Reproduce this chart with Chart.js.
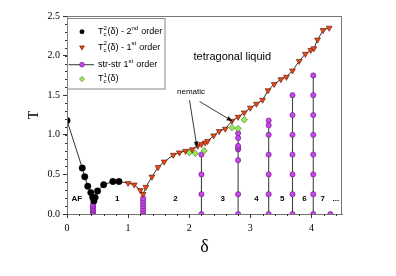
<!DOCTYPE html>
<html>
<head>
<meta charset="utf-8">
<script src="https://cdn.jsdelivr.net/npm/chart.js@4"></script>
<style>
  html, body { margin: 0; padding: 0; background: #fff; }
  #wrap { width: 396px; height: 276px; }
</style>
</head>
<body>
<div id="wrap"><canvas id="phaseChart"></canvas></div>
<script>
// T_c^2(delta), 2nd order transition (black circles)
const blackDelta = [0, 0.25, 0.29, 0.34, 0.39, 0.42, 0.44, 0.46, 0.5, 0.6, 0.75, 0.85];
const blackT     = [1.18, 0.58, 0.47, 0.35, 0.27, 0.21, 0.165, 0.21, 0.29, 0.37, 0.41, 0.41];

// T_c^2(delta), 1st order transition (orange triangles)
const triDelta = [1.0, 1.1, 1.2, 1.245, 1.29, 1.39, 1.49, 1.59, 1.74, 1.84, 1.94, 2.05, 2.14, 2.2, 2.26, 2.3,
                  2.4, 2.49, 2.59, 2.7, 2.8, 2.9, 3.0, 3.1, 3.2, 3.29, 3.39, 3.5, 3.59, 3.69, 3.8, 3.9, 3.99,
                  4.04, 4.1, 4.19, 4.29];
const triT     = [0.39, 0.37, 0.30, 0.25, 0.34, 0.47, 0.59, 0.66, 0.745, 0.775, 0.795, 0.815, 0.86, 0.88, 0.90, 0.92,
                  0.99, 1.045, 1.075, 1.175, 1.225, 1.28, 1.34, 1.39, 1.44, 1.56, 1.64, 1.70, 1.73, 1.81, 1.93, 2.02, 2.07,
                  2.09, 2.20, 2.32, 2.35];

// T_c^1(delta) (green diamonds)
const greenDelta = [2.0, 2.1, 2.245, 2.7, 2.8, 2.9];
const greenT     = [0.775, 0.765, 0.80, 1.09, 1.08, 1.19];

// stripe-stripe 1st order lines (purple columns)
const colDelta = [0.425, 1.245, 2.2, 2.8, 3.3, 3.69, 4.03, 4.31];
const colT = [
  [0, 0.02, 0.04, 0.06, 0.08, 0.10, 0.12],
  [0, 0.033, 0.066, 0.1, 0.133, 0.166, 0.2],
  [0, 0.25, 0.5, 0.75],
  [0, 0.25, 0.68, 0.815, 0.835, 0.86, 0.96, 1.02],
  [0, 0.25, 0.5, 0.75, 1.0, 1.12, 1.18],
  [0, 0.25, 0.5, 0.75, 1.0, 1.25, 1.5],
  [0, 0.25, 0.5, 0.75, 1.0, 1.25, 1.5, 1.75],
  [0]
];

const xTicks = [0, 1, 2, 3, 4];
const yTicks = [0, 0.5, 1.0, 1.5, 2.0, 2.5];

const phaseLabels = ['AF', '1', '2', '3', '4', '5', '6', '7', '...'];
const phaseLabelX = [0.16, 0.82, 1.775, 2.55, 3.1, 3.52, 3.885, 4.185, 4.4];

const pts = (xs, ys) => xs.map((x, i) => ({ x: x, y: ys[i] }));

const purple = '#cc44ee', purpleEdge = '#5e1a75';
const orange = '#e8481c', orangeEdge = '#5a1800';
const green = '#9be85a', greenEdge = '#3c7020';

const datasets = [
  { label: 'black', data: pts(blackDelta, blackT), pointStyle: 'circle', pointRadius: 3.2,
    backgroundColor: '#000', borderColor: '#000', borderWidth: 0.5, showLine: false },
  { label: 'tri', data: pts(triDelta, triT), pointStyle: 'triangle', rotation: 180, pointRadius: 3.4,
    backgroundColor: orange, borderColor: orangeEdge, borderWidth: 0.6, showLine: false },
  { label: 'green', data: pts(greenDelta, greenT), pointStyle: 'rectRot', pointRadius: 3.2,
    backgroundColor: green, borderColor: greenEdge, borderWidth: 0.6, showLine: false }
];
colDelta.forEach((d, i) => {
  datasets.push({
    label: 'col' + i, data: colT[i].map(t => ({ x: d, y: t })),
    showLine: true, borderColor: '#444', borderWidth: 1.1,
    pointStyle: 'circle', pointRadius: 2.6, pointBackgroundColor: purple,
    pointBorderColor: purpleEdge, pointBorderWidth: 0.6
  });
});
datasets.push({
  label: 'curve', data: pts(blackDelta.concat(triDelta), blackT.concat(triT)),
  showLine: true, pointRadius: 0, borderColor: '#333', borderWidth: 1
});

// rich text with sub/superscripts
function richText(ctx, x, y, parts, size) {
  let cx = x;
  parts.forEach(p => {
    if (p.sub || p.sup) {
      ctx.font = (size * 0.68) + 'px "Liberation Sans", Arial';
      let w = 0;
      if (p.sub) { ctx.fillText(p.sub, cx, y + size * 0.3); w = ctx.measureText(p.sub).width; }
      if (p.sup) { ctx.fillText(p.sup, cx, y - size * 0.42); w = Math.max(w, ctx.measureText(p.sup).width); }
      cx += w + 0.5;
    } else {
      ctx.font = size + 'px "Liberation Sans", Arial';
      ctx.fillText(p.t, cx, y);
      cx += ctx.measureText(p.t).width;
    }
  });
}

function arrow(ctx, x1, y1, x2, y2) {
  ctx.beginPath(); ctx.moveTo(x1, y1); ctx.lineTo(x2, y2); ctx.stroke();
  const a = Math.atan2(y2 - y1, x2 - x1), L = 6, W = 2.3;
  ctx.beginPath();
  ctx.moveTo(x2, y2);
  ctx.lineTo(x2 - L * Math.cos(a) + W * Math.sin(a), y2 - L * Math.sin(a) - W * Math.cos(a));
  ctx.lineTo(x2 - L * Math.cos(a) - W * Math.sin(a), y2 - L * Math.sin(a) + W * Math.cos(a));
  ctx.closePath(); ctx.fill();
}

const decorations = {
  id: 'decorations',
  afterDraw(chart) {
    const { ctx, chartArea: a, scales: { x, y } } = chart;
    ctx.save();
    // frame
    ctx.strokeStyle = '#777'; ctx.lineWidth = 1;
    ctx.strokeRect(a.left + 0.5, a.top + 0.5, a.right - a.left - 1, a.bottom - a.top);
    // minor ticks
    ctx.strokeStyle = '#333';
    ctx.beginPath();
    for (let v = 0; v <= 4.5001; v += 0.2) {
      const px = Math.round(x.getPixelForValue(v)) + 0.5;
      ctx.moveTo(px, a.bottom); ctx.lineTo(px, a.bottom + 2);
    }
    for (let v = 0; v <= 2.5001; v += 0.1) {
      const py = Math.round(y.getPixelForValue(v)) + 0.5;
      ctx.moveTo(a.left, py); ctx.lineTo(a.left - 2, py);
    }
    ctx.stroke();

    // phase labels
    ctx.fillStyle = '#000';
    ctx.font = 'bold 8px "Liberation Sans", Arial';
    ctx.textAlign = 'center'; ctx.textBaseline = 'middle';
    phaseLabels.forEach((s, i) => {
      ctx.fillText(s, x.getPixelForValue(phaseLabelX[i]), y.getPixelForValue(0.195));
    });

    ctx.textAlign = 'left';
    ctx.font = '11px "Liberation Sans", Arial';
    ctx.fillText('tetragonal liquid', x.getPixelForValue(2.07), y.getPixelForValue(1.98));
    ctx.font = '8px "Liberation Sans", Arial';
    ctx.fillText('nematic', x.getPixelForValue(1.8), y.getPixelForValue(1.545));

    ctx.strokeStyle = '#222'; ctx.fillStyle = '#111'; ctx.lineWidth = 0.9;
    arrow(ctx, x.getPixelForValue(2.005), y.getPixelForValue(1.436), x.getPixelForValue(2.128), y.getPixelForValue(0.84));
    arrow(ctx, x.getPixelForValue(2.17), y.getPixelForValue(1.42), x.getPixelForValue(2.71), y.getPixelForValue(1.17));

    // legend
    const lx = 67.5, ly = 18.5, lw = 97.5, lh = 70.5;
    ctx.fillStyle = '#fff'; ctx.fillRect(lx, ly, lw, lh);
    ctx.strokeStyle = '#888'; ctx.lineWidth = 1; ctx.strokeRect(lx, ly, lw, lh);
    const mx = 82, tx = 98;
    const rows = [31.7, 47.3, 64.7, 79];
    // markers
    ctx.lineWidth = 0.6;
    Chart.helpers.drawPoint(ctx, { pointStyle: 'circle', radius: 2.3, borderWidth: 0.5 }, mx, rows[0]);
    ctx.fillStyle = '#000'; ctx.strokeStyle = '#000';
    ctx.beginPath(); ctx.arc(mx, rows[0], 2.3, 0, Math.PI * 2); ctx.fill();
    ctx.fillStyle = orange; ctx.strokeStyle = orangeEdge;
    Chart.helpers.drawPoint(ctx, { pointStyle: 'triangle', rotation: 180, radius: 2.8, borderWidth: 0.6 }, mx, rows[1]);
    ctx.strokeStyle = '#444'; ctx.lineWidth = 1.1;
    ctx.beginPath(); ctx.moveTo(lx + 1, rows[2]); ctx.lineTo(94, rows[2]); ctx.stroke();
    ctx.fillStyle = purple; ctx.strokeStyle = purpleEdge; ctx.lineWidth = 0.6;
    Chart.helpers.drawPoint(ctx, { pointStyle: 'circle', radius: 2.4, borderWidth: 0.6 }, mx, rows[2]);
    ctx.fillStyle = green; ctx.strokeStyle = greenEdge;
    Chart.helpers.drawPoint(ctx, { pointStyle: 'rectRot', radius: 2.6, borderWidth: 0.6 }, mx, rows[3]);

    ctx.fillStyle = '#000'; ctx.textBaseline = 'middle'; ctx.textAlign = 'left';
    richText(ctx, tx, rows[0], [{ t: 'T' }, { sub: 'c', sup: '2' }, { t: '(δ) - 2' }, { sup: 'nd' }, { t: ' order' }], 9);
    richText(ctx, tx, rows[1], [{ t: 'T' }, { sub: 'c', sup: '2' }, { t: '(δ) - 1' }, { sup: 'st' }, { t: ' order' }], 9);
    richText(ctx, tx, rows[2], [{ t: 'str-str 1' }, { sup: 'st' }, { t: ' order' }], 9);
    richText(ctx, tx, rows[3], [{ t: 'T' }, { sub: 'c', sup: '1' }, { t: '(δ)' }], 9);
    ctx.restore();
  }
};

const serif = '"Liberation Serif", "Times New Roman", serif';

new Chart(document.getElementById('phaseChart'), {
  type: 'scatter',
  data: { datasets: datasets },
  options: {
    responsive: true,
    maintainAspectRatio: false,
    animation: false,
    layout: { padding: { left: 0, top: 16, right: 54, bottom: 0 } },
    plugins: { legend: { display: false }, tooltip: { enabled: false } },
    scales: {
      x: {
        type: 'linear', min: 0, max: 4.5,
        afterFit: s => { s.height = 62; },
        afterBuildTicks: s => { s.ticks = xTicks.map(v => ({ value: v })); },
        ticks: { font: { family: serif, size: 10 }, color: '#000', padding: 4, callback: v => String(v) },
        grid: { drawOnChartArea: false, tickLength: 4, color: '#333' },
        border: { color: '#777' },
        title: { display: true, text: 'δ', font: { family: serif, size: 18 }, color: '#000', padding: { top: 0, bottom: 18 } }
      },
      y: {
        type: 'linear', min: 0, max: 2.5,
        afterFit: s => { s.width = 67; },
        afterBuildTicks: s => { s.ticks = yTicks.map(v => ({ value: v })); },
        ticks: { font: { family: serif, size: 10 }, color: '#000', padding: 3, callback: v => v.toFixed(1) },
        grid: { drawOnChartArea: false, tickLength: 4, color: '#333' },
        border: { color: '#777' },
        title: { display: true, text: 'T', font: { family: serif, size: 14 }, color: '#000', padding: { top: 26, bottom: 0 } }
      }
    }
  },
  plugins: [decorations]
});
</script>
</body>
</html>
